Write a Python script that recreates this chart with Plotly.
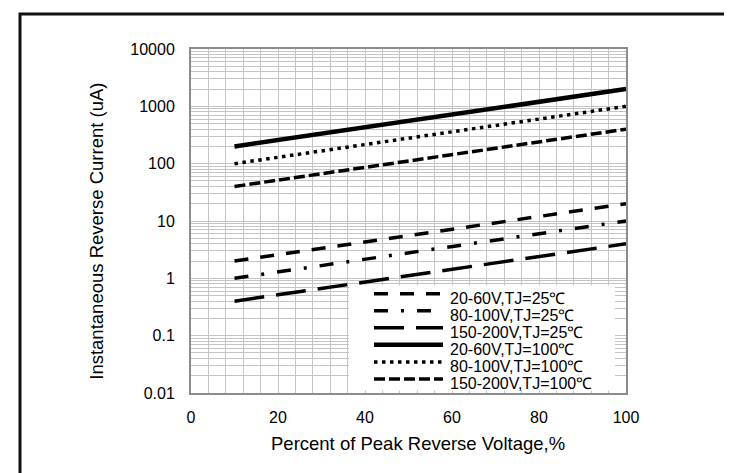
import plotly.graph_objects as go

# ---- data ----
x_pct = [10, 100]
series_names = ["20-60V,TJ=25℃", "80-100V,TJ=25℃", "150-200V,TJ=25℃",
                "20-60V,TJ=100℃", "80-100V,TJ=100℃", "150-200V,TJ=100℃"]
series_values = [
    [2, 20],
    [1, 10],
    [0.4, 4],
    [200, 2000],
    [100, 1000],
    [40, 400],
]
x_tickvals = [0, 20, 40, 60, 80, 100]
y_tickvals = [0.01, 0.1, 1, 10, 100, 1000, 10000]
y_ticktext = ["0.01", "0.1", "1", "10", "100", "1000", "10000"]
x_title = "Percent of Peak Reverse Voltage,%"
y_title = "Instantaneous Reverse Current (uA)"

# ---- styles ----
dashes = ["14px,12px", "14px,13px,3px,13px", "30px,12px", "solid", "3.5px,4.5px", "11px,4px"]
widths = [3.5, 3.5, 3.5, 4.5, 3.5, 3.5]

FONT = "Liberation Sans, Arial, sans-serif"
GRID = "#c4c4c4"
AXLINE = "#8c8c8c"

# pixel helpers for layout placement (plot area 183..618 x, 41..385.5 y)
L, R, T, B = 183, 618, 41, 385.5
def px_x(p):
    return (p - L) / (R - L)
def px_y(p):
    return (B - p) / (B - T)

fig = go.Figure()
for name, vals, d, w in zip(series_names, series_values, dashes, widths):
    fig.add_trace(go.Scatter(x=x_pct, y=vals, mode="lines", name=name,
                             showlegend=False,
                             line=dict(color="black", width=w, dash=d)))

minor_y = [m * 10 ** e for e in range(-2, 4) for m in range(2, 10)]

fig.update_layout(
    width=732, height=473,
    margin=dict(l=L, r=732 - R, t=T, b=473 - B),
    paper_bgcolor="white", plot_bgcolor="white",
    font=dict(family=FONT, color="black", size=16),
    xaxis=dict(range=[0, 100], tickvals=x_tickvals, showgrid=True, gridcolor=GRID,
               gridwidth=1, zeroline=False, showline=True, linecolor=AXLINE,
               linewidth=2, mirror=True, ticks="", ticklabelstandoff=9,
               tickfont=dict(size=16),
               minor=dict(dtick=4, showgrid=True, gridcolor=GRID, gridwidth=1)),
    yaxis=dict(type="log", range=[-2, 4], tickvals=y_tickvals, ticktext=y_ticktext,
               showgrid=True, gridcolor=GRID, gridwidth=1, zeroline=False,
               showline=True, linecolor=AXLINE, linewidth=2, mirror=True,
               ticks="", ticklabelstandoff=11, tickfont=dict(size=16),
               minor=dict(tickvals=minor_y, showgrid=True, gridcolor=GRID, gridwidth=1)),
)

shapes = []
# outer frame
shapes.append(dict(type="rect", xref="paper", yref="paper",
                   x0=px_x(12), x1=px_x(724), y0=px_y(490), y1=px_y(6),
                   line=dict(color="#111111", width=3), layer="above"))
# legend background
shapes.append(dict(type="rect", xref="paper", yref="paper",
                   x0=px_x(341), x1=px_x(607), y0=px_y(383), y1=px_y(277.5),
                   fillcolor="white", line=dict(width=0), layer="above"))
annotations = []
row0, row_gap = 286, 17.1
for i, (name, d, w) in enumerate(zip(series_names, dashes, widths)):
    yy = row0 + i * row_gap
    shapes.append(dict(type="line", xref="paper", yref="paper",
                       x0=px_x(366), x1=px_x(435), y0=px_y(yy), y1=px_y(yy),
                       line=dict(color="black", width=w, dash=d), layer="above"))
    annotations.append(dict(xref="paper", yref="paper", x=px_x(440), y=px_y(yy + 4.5),
                            xanchor="left", yanchor="middle", showarrow=False,
                            text=name, font=dict(size=16, family=FONT, color="black")))
# axis titles
annotations.append(dict(xref="paper", yref="paper", x=px_x(89), y=px_y(224),
                        xanchor="center", yanchor="middle", showarrow=False,
                        textangle=-90, text=y_title,
                        font=dict(size=18.5, family=FONT, color="black")))
annotations.append(dict(xref="paper", yref="paper", x=px_x(410), y=px_y(436),
                        xanchor="center", yanchor="middle", showarrow=False,
                        text=x_title,
                        font=dict(size=18.5, family=FONT, color="black")))
fig.update_layout(shapes=shapes, annotations=annotations)

fig.write_html("out.html")
